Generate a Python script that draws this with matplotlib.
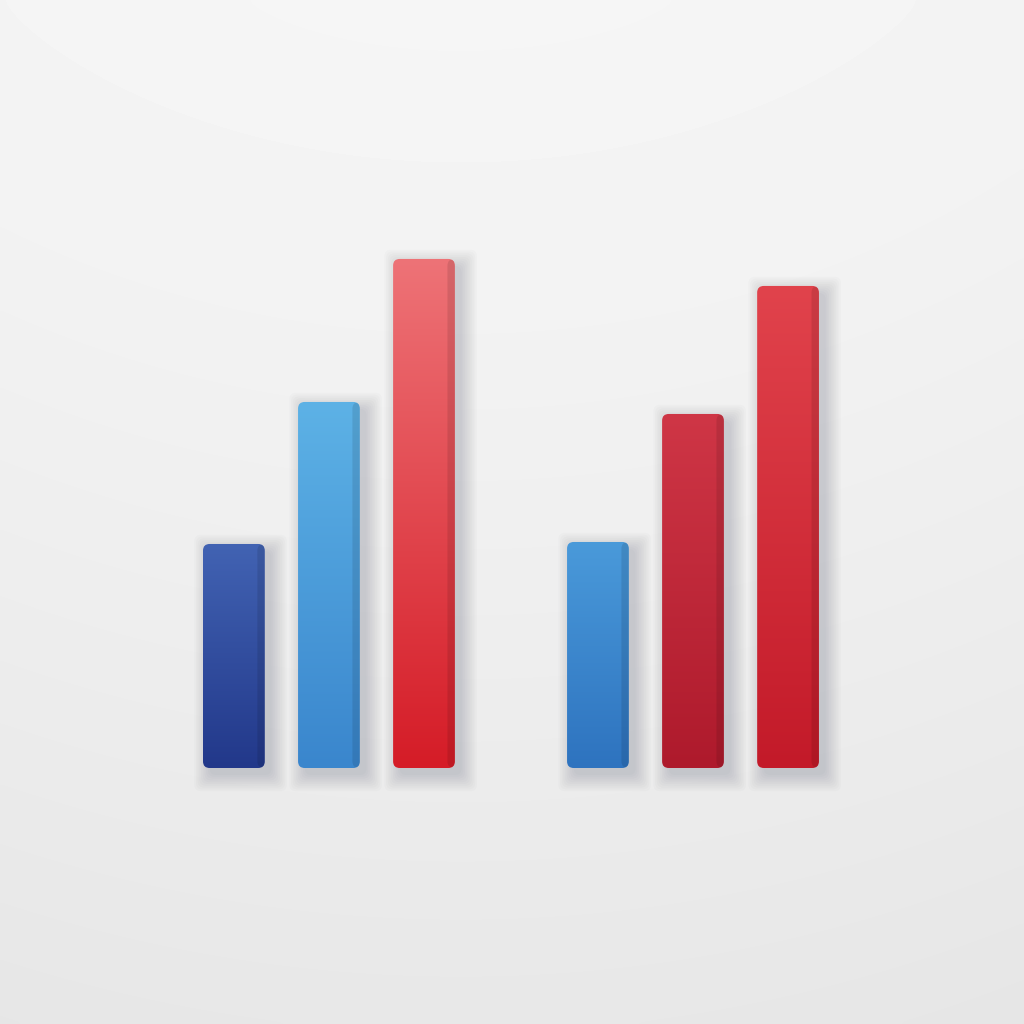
import numpy as np
import matplotlib.pyplot as plt
from matplotlib.patches import FancyBboxPatch
from matplotlib.colors import LinearSegmentedColormap

# two groups of three bars, no axes or text in the source
positions = [0, 1, 2, 3.83, 4.83, 5.83]
values = [2.24, 3.66, 5.09, 2.26, 3.54, 4.82]
top_colors = ["#4263b3", "#5db2e6", "#ee7377", "#4a9ada", "#cf3646", "#e1434c"]
bottom_colors = ["#22388a", "#3a86cd", "#d51c27", "#2e73bf", "#ae1a2c", "#c31a29"]

fig = plt.figure(figsize=(10.24, 10.24), dpi=100)

# soft studio backdrop, lighter at the top
bg = fig.add_axes([0, 0, 1, 1])
yy, xx = np.mgrid[0:1:256j, 0:1:256j]
shade = 0.962 - 0.055 * yy ** 1.3 - 0.025 * (xx - 0.45) ** 2
bg.imshow(shade, cmap="gray", vmin=0, vmax=1, extent=[0, 1, 0, 1],
          aspect="auto", origin="upper", interpolation="bicubic")
bg.axis("off")

ax = fig.add_axes([0.182, 0.25, 0.634, 0.586])
ax.set_xlim(-0.5, 6.33)
ax.set_ylim(0, 6)
ax.axis("off")
ax.patch.set_alpha(0)

bars = ax.bar(positions, values, width=0.65)
style = "round,pad=0,rounding_size=0.07"
for bar, c0, c1 in zip(bars, top_colors, bottom_colors):
    x0, y0 = bar.get_x(), bar.get_y()
    w, h = bar.get_width(), bar.get_height()
    bar.set_visible(False)

    # soft drop shadow, down and to the right
    for i in range(10):
        grow = 0.018 * i
        sh = FancyBboxPatch((x0 + 0.07 - grow, y0 - 0.07 - grow), w + 2 * grow, h + 2 * grow,
                            boxstyle=style, mutation_aspect=0.95, clip_on=False,
                            facecolor="#2a3448", edgecolor="none", alpha=0.02, zorder=1)
        ax.add_patch(sh)

    body = FancyBboxPatch((x0, y0), w, h, boxstyle=style, mutation_aspect=0.95,
                          facecolor="none", edgecolor="none", zorder=2, clip_on=False)
    ax.add_patch(body)
    cmap = LinearSegmentedColormap.from_list("g", [c1, c0])
    grad = np.linspace(0, 1, 256).reshape(-1, 1) * np.ones((1, 32))
    img = ax.imshow(grad, cmap=cmap, extent=[x0, x0 + w, y0, y0 + h],
                    origin="lower", aspect="auto", zorder=3)
    img.set_clip_path(body)
    # darker right side face for a bit of depth
    side = FancyBboxPatch((x0 + w * 0.88, y0), w * 0.12, h, boxstyle=style, mutation_aspect=0.95,
                          facecolor="black", edgecolor="none", alpha=0.10, zorder=4)
    side.set_clip_path(body)
    ax.add_patch(side)

fig.savefig("out.png", dpi=100)
